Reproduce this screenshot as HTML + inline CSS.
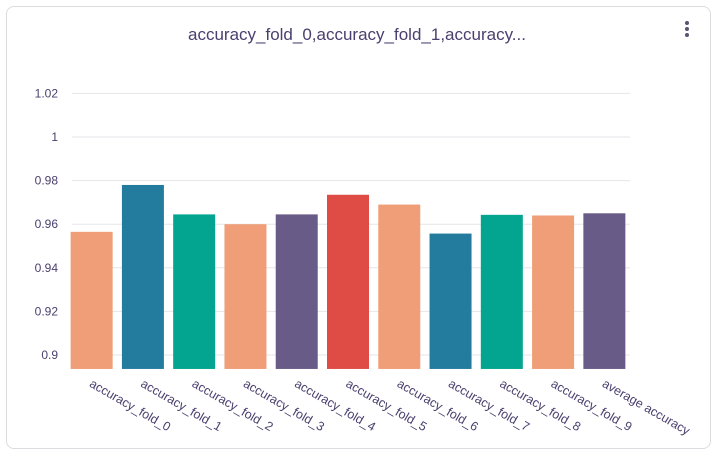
<!DOCTYPE html>
<html><head><style>
body{margin:0;background:#fff;font-family:"Liberation Sans",sans-serif;}
.card{position:absolute;left:6px;top:6px;width:705px;height:443px;border:1px solid #dcdce0;border-radius:8px;box-sizing:border-box;}
</style></head><body>
<div class="card"></div>
<svg width="720" height="456" style="position:absolute;left:0;top:0">
<text x="357" y="40" text-anchor="middle" font-size="17" fill="#4a3f6e">accuracy_fold_0,accuracy_fold_1,accuracy...</text>
<g fill="#5a5273"><circle cx="687" cy="23" r="2"/><circle cx="687" cy="29" r="2"/><circle cx="687" cy="35" r="2"/></g>
<g id="grid"></g><g id="bars"></g><g id="labels"></g>
</svg>
<script>
const categories=["accuracy_fold_0","accuracy_fold_1","accuracy_fold_2","accuracy_fold_3","accuracy_fold_4","accuracy_fold_5","accuracy_fold_6","accuracy_fold_7","accuracy_fold_8","accuracy_fold_9","average accuracy"];
const values=[0.9565,0.978,0.9645,0.960,0.9645,0.9735,0.969,0.9557,0.9643,0.964,0.965];
const colors=["#f09e78","#237b9e","#03a590","#f09e78","#685b87","#de4c45","#f09e78","#237b9e","#03a590","#f09e78","#685b87"];
const ticks=[0.9,0.92,0.94,0.96,0.98,1,1.02];
const tickLabels=["0.9","0.92","0.94","0.96","0.98","1","1.02"];
const yMin=0.8936;
const y=v=>355-(v-0.9)*2180;
const x0=66,x1=630,band=(x1-x0)/categories.length;
const NS="http://www.w3.org/2000/svg";
const g=document.getElementById('grid'),b=document.getElementById('bars'),l=document.getElementById('labels');
ticks.forEach((t,i)=>{
 const ln=document.createElementNS(NS,'line');
 
 
 ln.setAttribute('x1',72);ln.setAttribute('x2',x1);ln.setAttribute('y1',y(t));ln.setAttribute('y2',y(t));
 ln.setAttribute('stroke','#e6e6ea');g.appendChild(ln);
 const tx=document.createElementNS(NS,'text');
 
 
 tx.setAttribute('x',58);tx.setAttribute('y',y(t)+4);tx.setAttribute('text-anchor','end');
 tx.setAttribute('font-size','12');tx.setAttribute('fill','#4a3f6e');tx.textContent=tickLabels[i];g.appendChild(tx);
});
categories.forEach((c,i)=>{
 const bw=42,cx=x0+band*(i+0.5);
 const r=document.createElementNS(NS,'rect');
 
 
 r.setAttribute('x',cx-bw/2);r.setAttribute('width',bw);
 r.setAttribute('y',y(values[i]));r.setAttribute('height',y(yMin)-y(values[i]));
 r.setAttribute('fill',colors[i]);b.appendChild(r);
 const t=document.createElementNS(NS,'text');
 
 
 t.setAttribute('transform',`translate(${cx-3},${386}) rotate(30)`);
 t.setAttribute('font-size','12.5');t.setAttribute('fill','#4a3f6e');t.textContent=c;l.appendChild(t);
});
</script>
</body></html>
